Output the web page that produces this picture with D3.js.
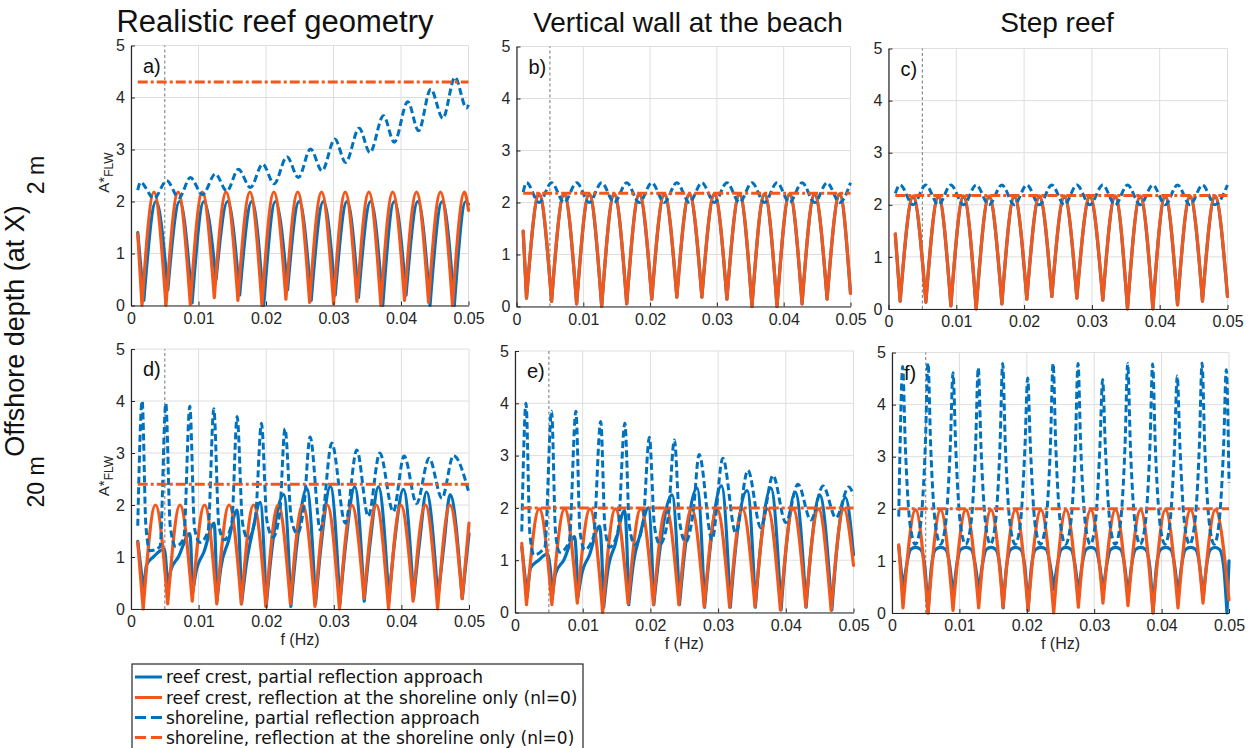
<!DOCTYPE html>
<html>
<head>
<meta charset="utf-8">
<script src="https://cdn.jsdelivr.net/npm/d3@7"></script>
<style>
  body { margin: 0; background: #fff; }
  svg { display: block; }
</style>
</head>
<body>
<svg id="fig" width="1252" height="748"></svg>
<script>
// ---------------------------------------------------------------------------
// Normalised far-field long-wave amplitude A*_FLW against frequency f (Hz).
// Each series is a list of [f, A*] points; troughs of the solid reef-crest
// curves are sharp minima.
// ---------------------------------------------------------------------------

const columnTitles = ["Realistic reef geometry", "Vertical wall at the beach", "Step reef"];
const rowLabels = ["2 m", "20 m"];
const panelLetters = ["a)", "b)", "c)", "d)", "e)", "f)"];
const xTicks = [0, 0.01, 0.02, 0.03, 0.04, 0.05];
const yTicks = [0, 1, 2, 3, 4, 5];
const markerFrequency = 0.005;
const legendLabels = [
  "reef crest, partial reflection approach",
  "reef crest, reflection at the shoreline only (nl=0)",
  "shoreline, partial reflection approach",
  "shoreline, reflection at the shoreline only (nl=0)"
];

// ---- a) realistic reef, 2 m offshore depth ----
const aCrestPartial = [[0.001,1.4],[0.0019,0.1],[0.0037,2.0],[0.00545,0.3],[0.0072,2.0],[0.00905,0.05],[0.0108,2.0],[0.0126,0.5],[0.0143,2.0],[0.0161,0.2],[0.0179,2.0],[0.01965,0.0],[0.0214,2.0],[0.0232,0.3],[0.0249,2.0],[0.0267,0.1],[0.0285,2.0],[0.03025,0.2],[0.032,2.0],[0.0337,0.15],[0.0355,2.0],[0.0373,0.0],[0.039,2.0],[0.04075,0.2],[0.0425,2.0],[0.0443,0.0],[0.0461,2.0],[0.0479,0.0],[0.0496,2.0],[0.05,1.95]];
const aCrestNl0 = [[0.001,1.38],[0.00163,0.0],[0.0034,2.18],[0.00518,0.0],[0.00698,2.18],[0.00879,0.02],[0.01056,2.18],[0.01234,0.15],[0.01409,2.18],[0.01584,0.1],[0.01762,2.18],[0.0194,0.0],[0.02117,2.18],[0.02295,0.12],[0.0247,2.18],[0.02646,0.06],[0.02823,2.18],[0.03001,0.03],[0.03174,2.18],[0.03347,0.08],[0.03524,2.18],[0.03702,0.0],[0.03877,2.18],[0.04052,0.1],[0.0423,2.18],[0.04408,0.06],[0.04585,2.18],[0.04763,0.0],[0.0494,2.18],[0.05,1.83]];
const aShorePartial = [[0.001,2.22],[0.0014,2.37],[0.0034,2.06],[0.0053,2.4],[0.0071,2.07],[0.0088,2.46],[0.0106,2.13],[0.0125,2.53],[0.0142,2.2],[0.0159,2.62],[0.0177,2.27],[0.0195,2.72],[0.0212,2.34],[0.0231,2.86],[0.0248,2.46],[0.0266,3.01],[0.0283,2.59],[0.0302,3.2],[0.0318,2.75],[0.0338,3.41],[0.0354,2.94],[0.0374,3.65],[0.039,3.14],[0.041,3.92],[0.0426,3.36],[0.0444,4.16],[0.0462,3.6],[0.048,4.39],[0.0497,3.8],[0.05,3.86]];
const aShoreNl0 = [[0.001,4.3],[0.05,4.3]];

// ---- b) vertical wall at the beach, 2 m ----
const bCrestNl0 = [[0.001,1.45],[0.0015,0.16],[0.00338,2.17],[0.00525,0.1],[0.00713,2.17],[0.009,0.05],[0.01088,2.17],[0.01275,0.0],[0.01463,2.17],[0.0165,0.05],[0.01838,2.17],[0.02025,0.14],[0.02213,2.17],[0.024,0.18],[0.02588,2.17],[0.02775,0.18],[0.02963,2.17],[0.0315,0.14],[0.03338,2.17],[0.03525,0.0],[0.03713,2.17],[0.039,0.0],[0.04088,2.17],[0.04275,0.05],[0.04463,2.17],[0.0465,0.14],[0.04838,2.17],[0.05,0.25]];
const bCrestPartial = [[0.001,1.45],[0.0015,0.16],[0.00338,2.15],[0.00525,0.1],[0.00713,2.15],[0.009,0.05],[0.01088,2.15],[0.01275,0.0],[0.01463,2.15],[0.0165,0.05],[0.01838,2.15],[0.02025,0.14],[0.02213,2.15],[0.024,0.18],[0.02588,2.15],[0.02775,0.18],[0.02963,2.15],[0.0315,0.14],[0.03338,2.15],[0.03525,0.0],[0.03713,2.15],[0.039,0.0],[0.04088,2.15],[0.04275,0.05],[0.04463,2.15],[0.0465,0.14],[0.04838,2.15],[0.05,0.25]];
const bShorePartial = [[0.001,2.2],[0.0015,2.38],[0.00338,2.0],[0.00525,2.38],[0.00713,2.0],[0.009,2.38],[0.01088,2.0],[0.01275,2.38],[0.01463,2.0],[0.0165,2.38],[0.01838,2.0],[0.02025,2.38],[0.02213,2.0],[0.024,2.38],[0.02588,2.0],[0.02775,2.38],[0.02963,2.0],[0.0315,2.38],[0.03338,2.0],[0.03525,2.38],[0.03713,2.0],[0.039,2.38],[0.04088,2.0],[0.04275,2.38],[0.04463,2.0],[0.0465,2.38],[0.04838,2.0],[0.05,2.38]];
const bShoreNl0 = [[0.001,2.18],[0.05,2.18]];

// ---- c) step reef, 2 m ----
const cCrestNl0 = [[0.001,1.44],[0.00172,0.15],[0.00362,2.17],[0.00551,0.13],[0.00736,2.17],[0.0092,0.06],[0.01107,2.17],[0.01293,0.0],[0.01483,2.17],[0.01672,0.1],[0.01856,2.17],[0.0204,0.19],[0.02225,2.17],[0.02409,0.24],[0.02594,2.17],[0.02778,0.21],[0.0297,2.17],[0.03161,0.17],[0.03343,2.17],[0.03525,0.0],[0.03712,2.17],[0.03899,0.0],[0.04081,2.17],[0.04263,0.08],[0.04447,2.17],[0.04631,0.15],[0.04816,2.17],[0.05,0.24]];
const cCrestPartial = [[0.001,1.44],[0.00172,0.15],[0.00362,2.15],[0.00551,0.13],[0.00736,2.15],[0.0092,0.06],[0.01107,2.15],[0.01293,0.0],[0.01483,2.15],[0.01672,0.1],[0.01856,2.15],[0.0204,0.19],[0.02225,2.15],[0.02409,0.24],[0.02594,2.15],[0.02778,0.21],[0.0297,2.15],[0.03161,0.17],[0.03343,2.15],[0.03525,0.0],[0.03712,2.15],[0.03899,0.0],[0.04081,2.15],[0.04263,0.08],[0.04447,2.15],[0.04631,0.15],[0.04816,2.15],[0.05,0.24]];
const cShorePartial = [[0.001,2.22],[0.00172,2.38],[0.00362,2.0],[0.00551,2.38],[0.00736,2.0],[0.0092,2.38],[0.01107,2.0],[0.01293,2.38],[0.01483,2.0],[0.01672,2.38],[0.01856,2.0],[0.0204,2.38],[0.02225,2.0],[0.02409,2.38],[0.02594,2.0],[0.02778,2.38],[0.0297,2.0],[0.03161,2.38],[0.03343,2.0],[0.03525,2.38],[0.03712,2.0],[0.03899,2.38],[0.04081,2.0],[0.04263,2.38],[0.04447,2.0],[0.04631,2.38],[0.04816,2.0],[0.05,2.38]];
const cShoreNl0 = [[0.001,2.18],[0.05,2.18]];

// ---- d) realistic reef, 20 m offshore depth ----
const dCrestPartial = [[0.001,1.3],[0.0019,0.3],[0.0023,0.85],[0.0033,1.0],[0.0049,1.15],[0.00545,0.35],[0.0059,0.75],[0.007,1.0],[0.0087,1.45],[0.0091,0.3],[0.0096,0.7],[0.0108,1.1],[0.0123,1.65],[0.0127,0.15],[0.0133,0.8],[0.0144,1.3],[0.0157,1.9],[0.01635,0.1],[0.0171,0.9],[0.018,1.5],[0.0191,2.05],[0.02,0.05],[0.0208,1.1],[0.0226,2.2],[0.02365,0.05],[0.0245,1.2],[0.026,2.32],[0.0273,0.1],[0.0281,1.2],[0.0295,2.36],[0.0309,0.1],[0.0318,1.3],[0.0331,2.35],[0.0345,0.15],[0.0354,1.3],[0.0366,2.35],[0.03815,0.15],[0.039,1.3],[0.0403,2.3],[0.0418,0.2],[0.0427,1.3],[0.0437,2.25],[0.0454,0.2],[0.0463,1.25],[0.0472,2.2],[0.049,0.2],[0.05,1.45]];
const dCrestNl0 = [[0.001,1.28],[0.0018,0.0],[0.00362,2.0],[0.00543,0.1],[0.00725,2.0],[0.00906,0.15],[0.01088,2.0],[0.01269,0.1],[0.01451,2.0],[0.01632,0.1],[0.01814,2.0],[0.01995,0.05],[0.02177,2.0],[0.02358,0.1],[0.0254,2.0],[0.02721,0.05],[0.02903,2.0],[0.03084,0.0],[0.03266,2.0],[0.03447,0.2],[0.03629,2.0],[0.0381,0.0],[0.03992,2.0],[0.04173,0.15],[0.04355,2.0],[0.04536,0.0],[0.04718,2.0],[0.04899,0.2],[0.05,1.65]];
const dShorePartial = [[0.001,1.6],[0.00165,4.0],[0.0022,1.6],[0.0028,1.12],[0.0043,1.2],[0.00515,3.95],[0.0058,1.6],[0.0066,1.2],[0.0078,1.35],[0.0087,3.9],[0.0094,1.55],[0.0102,1.28],[0.0114,1.5],[0.01225,3.85],[0.013,1.6],[0.0138,1.33],[0.0149,1.65],[0.0157,3.7],[0.0165,1.65],[0.0173,1.35],[0.0184,1.75],[0.0193,3.57],[0.0201,1.7],[0.021,1.38],[0.022,1.85],[0.02278,3.47],[0.0237,1.75],[0.0246,1.45],[0.0256,2.0],[0.0265,3.31],[0.028,1.52],[0.0297,3.19],[0.0317,1.65],[0.0334,3.06],[0.0351,1.78],[0.0368,3.0],[0.0388,1.87],[0.0404,2.94],[0.04225,2.03],[0.0441,2.9],[0.046,2.13],[0.0477,2.95],[0.05,2.23]];
const dShoreNl0 = [[0.001,2.4],[0.05,2.4]];

// ---- e) vertical wall at the beach, 20 m ----
const eCrestPartial = [[0.001,1.25],[0.0018,0.3],[0.0023,0.85],[0.0035,1.0],[0.0048,1.12],[0.00555,0.35],[0.006,0.75],[0.0072,1.0],[0.0088,1.45],[0.0093,0.3],[0.0098,0.7],[0.011,1.1],[0.0125,1.65],[0.0131,0.1],[0.0137,0.8],[0.0148,1.3],[0.0162,1.95],[0.0168,0.15],[0.0175,0.95],[0.0185,1.5],[0.0197,2.0],[0.0205,0.15],[0.0213,1.1],[0.0232,2.25],[0.0243,0.15],[0.0251,1.2],[0.0269,2.38],[0.028,0.1],[0.0288,1.2],[0.0305,2.42],[0.0318,0.1],[0.0326,1.25],[0.0343,2.33],[0.0355,0.1],[0.0363,1.3],[0.0378,2.38],[0.0393,0.05],[0.0401,1.3],[0.0414,2.3],[0.043,0.1],[0.0438,1.3],[0.045,2.25],[0.0468,0.05],[0.0476,1.3],[0.0488,2.2],[0.05,1.1]];
const eCrestNl0 = [[0.001,1.32],[0.0017,0.15],[0.00358,1.98],[0.00545,0.15],[0.00733,1.98],[0.0092,0.18],[0.01108,1.98],[0.01295,0.0],[0.01483,1.98],[0.0167,0.17],[0.01858,1.98],[0.02045,0.15],[0.02233,1.98],[0.0242,0.15],[0.02608,1.98],[0.02795,0.11],[0.02983,1.98],[0.0317,0.1],[0.03358,1.98],[0.03545,0.11],[0.03733,1.98],[0.0392,0.05],[0.04108,1.98],[0.04295,0.11],[0.04483,1.98],[0.0467,0.04],[0.04858,1.98],[0.05,0.9]];
const eShorePartial = [[0.001,1.55],[0.00163,4.0],[0.0022,1.5],[0.0028,1.1],[0.0044,1.25],[0.0054,3.85],[0.006,1.5],[0.0066,1.15],[0.008,1.35],[0.009,3.85],[0.0096,1.55],[0.0103,1.2],[0.0116,1.45],[0.01266,3.65],[0.0133,1.6],[0.014,1.25],[0.0152,1.55],[0.01623,3.62],[0.0169,1.65],[0.0177,1.3],[0.0189,1.7],[0.01985,3.35],[0.0206,1.65],[0.0214,1.3],[0.0226,1.8],[0.02355,3.3],[0.0243,1.75],[0.0252,1.35],[0.0263,1.9],[0.0272,3.02],[0.0291,1.39],[0.0307,2.95],[0.0326,1.52],[0.0344,2.72],[0.0363,1.62],[0.0381,2.62],[0.04,1.72],[0.0418,2.45],[0.0437,1.77],[0.0455,2.42],[0.0474,1.81],[0.0493,2.4],[0.05,2.25]];
const eShoreNl0 = [[0.001,2.0],[0.05,2.0]];

// ---- f) step reef, 20 m ----
const fCrestPartial = [[0.001,1.28],[0.00165,0.45],[0.00215,0.9],[0.00275,1.22],[0.0035,1.26],[0.00426,1.22],[0.00486,0.9],[0.00536,0.0],[0.00586,0.9],[0.00646,1.22],[0.00722,1.26],[0.00798,1.22],[0.00858,0.9],[0.00908,0.3],[0.00958,0.9],[0.01018,1.22],[0.01098,1.26],[0.01178,1.22],[0.01238,0.9],[0.01288,0.4],[0.01338,0.9],[0.01398,1.22],[0.01469,1.26],[0.0154,1.22],[0.016,0.9],[0.0165,0.1],[0.017,0.9],[0.0176,1.22],[0.01835,1.26],[0.0191,1.22],[0.0197,0.9],[0.0202,0.05],[0.0207,0.9],[0.0213,1.22],[0.0221,1.26],[0.0229,1.22],[0.0235,0.9],[0.024,0.45],[0.0245,0.9],[0.0251,1.22],[0.02584,1.26],[0.02658,1.22],[0.02718,0.9],[0.02768,0.35],[0.02818,0.9],[0.02878,1.22],[0.0295,1.26],[0.03023,1.22],[0.03083,0.9],[0.03133,0.4],[0.03183,0.9],[0.03243,1.22],[0.03318,1.26],[0.03393,1.22],[0.03453,0.9],[0.03503,0.3],[0.03553,0.9],[0.03613,1.22],[0.03688,1.26],[0.03764,1.22],[0.03824,0.9],[0.03874,0.0],[0.03924,0.9],[0.03984,1.22],[0.0406,1.26],[0.04135,1.22],[0.04195,0.9],[0.04245,0.3],[0.04295,0.9],[0.04355,1.22],[0.0443,1.26],[0.04506,1.22],[0.04566,0.9],[0.04616,0.25],[0.04666,0.9],[0.04726,1.22],[0.04793,1.26],[0.0486,1.22],[0.0492,0.9],[0.0497,0.0],[0.05,1.0]];
const fCrestNl0 = [[0.001,1.31],[0.00163,0.1],[0.00349,1.98],[0.00534,0.0],[0.0072,1.98],[0.00905,0.05],[0.01096,1.98],[0.01286,0.1],[0.01467,1.98],[0.01647,0.11],[0.01833,1.98],[0.02018,0.06],[0.02209,1.98],[0.02399,0.0],[0.02582,1.98],[0.02765,0.11],[0.02948,1.98],[0.0313,0.19],[0.03316,1.98],[0.03501,0.14],[0.03687,1.98],[0.03872,0.0],[0.04058,1.98],[0.04243,0.1],[0.04429,1.98],[0.04614,0.19],[0.04799,1.98],[0.05,0.25]];
const fShorePartial = [[0.001,1.85],[0.0012,3.2],[0.00158,4.73],[0.00198,3.2],[0.00268,1.7],[0.00346,1.32],[0.00424,1.7],[0.00494,3.2],[0.00534,4.8],[0.00574,3.2],[0.00644,1.7],[0.0072,1.32],[0.00795,1.7],[0.00865,3.2],[0.00905,4.61],[0.00945,3.2],[0.01015,1.7],[0.01093,1.32],[0.0117,1.7],[0.0124,3.2],[0.0128,4.71],[0.0132,3.2],[0.0139,1.7],[0.01461,1.32],[0.01532,1.7],[0.01602,3.2],[0.01642,4.79],[0.01682,3.2],[0.01752,1.7],[0.01828,1.32],[0.01903,1.7],[0.01973,3.2],[0.02013,4.51],[0.02053,3.2],[0.02123,1.7],[0.02202,1.32],[0.0228,1.7],[0.0235,3.2],[0.0239,4.79],[0.0243,3.2],[0.025,1.7],[0.02575,1.32],[0.0265,1.7],[0.0272,3.2],[0.0276,4.79],[0.028,3.2],[0.0287,1.7],[0.02943,1.32],[0.03015,1.7],[0.03085,3.2],[0.03125,4.48],[0.03165,3.2],[0.03235,1.7],[0.03311,1.32],[0.03387,1.7],[0.03457,3.2],[0.03497,4.79],[0.03537,3.2],[0.03607,1.7],[0.03682,1.32],[0.03757,1.7],[0.03827,3.2],[0.03867,4.78],[0.03907,3.2],[0.03977,1.7],[0.0405,1.32],[0.04122,1.7],[0.04192,3.2],[0.04232,4.55],[0.04272,3.2],[0.04342,1.7],[0.04416,1.32],[0.0449,1.7],[0.0456,3.2],[0.046,4.8],[0.0464,3.2],[0.0471,1.7],[0.0478,1.32],[0.0485,1.7],[0.0492,3.2],[0.0496,4.67],[0.05,2.5]];
const fShoreNl0 = [[0.001,2.0],[0.05,2.0]];

// ---------------------------------------------------------------------------
const BLUE = "#0072bd";
const ORANGE = "#f2581b";
const TEXT = "#262626";
const GRID = "#dedede";

const seriesStyles = [
  { key: "crestPartial", color: BLUE,   width: 3.2, dash: null,         cusp: true,  legendDash: null },
  { key: "crestNl0",     color: ORANGE, width: 3.2, dash: null,         cusp: true,  legendDash: null },
  { key: "shorePartial", color: BLUE,   width: 3.0, dash: "7,3.5",      cusp: false, legendDash: "11,5" },
  { key: "shoreNl0",     color: ORANGE, width: 3.0, dash: "10,3,3,3",   cusp: false, legendDash: "11,5" }
];

const panels = [
  { box: { left: 131, right: 468.5, top: 45.5, bottom: 305.5 }, crestPartial: aCrestPartial, crestNl0: aCrestNl0, shorePartial: aShorePartial, shoreNl0: aShoreNl0 },
  { box: { left: 516.5, right: 850.5, top: 46.5, bottom: 306.5 }, crestPartial: bCrestPartial, crestNl0: bCrestNl0, shorePartial: bShorePartial, shoreNl0: bShoreNl0 },
  { box: { left: 888.5, right: 1227.5, top: 48.5, bottom: 309 }, crestPartial: cCrestPartial, crestNl0: cCrestNl0, shorePartial: cShorePartial, shoreNl0: cShoreNl0 },
  { box: { left: 131, right: 469, top: 349, bottom: 609 }, crestPartial: dCrestPartial, crestNl0: dCrestNl0, shorePartial: dShorePartial, shoreNl0: dShoreNl0 },
  { box: { left: 515, right: 853.5, top: 351, bottom: 612.5 }, crestPartial: eCrestPartial, crestNl0: eCrestNl0, shorePartial: eShorePartial, shoreNl0: eShoreNl0 },
  { box: { left: 892, right: 1229, top: 352.5, bottom: 613 }, crestPartial: fCrestPartial, crestNl0: fCrestNl0, shorePartial: fShorePartial, shoreNl0: fShoreNl0 }
];

const svg = d3.select("#fig");
const FONT = "'Liberation Sans', Arial, sans-serif";
const LEGEND_FONT = "'DejaVu Sans', sans-serif";

// Split a curve at its local minima so the troughs stay sharp.
function splitAtTroughs(data) {
  const parts = [];
  let cur = [data[0]];
  for (let i = 1; i < data.length; i++) {
    cur.push(data[i]);
    if (i < data.length - 1 && data[i][1] < data[i - 1][1] && data[i][1] < data[i + 1][1]) {
      parts.push(cur);
      cur = [data[i]];
    }
  }
  parts.push(cur);
  return parts;
}

panels.forEach((p, idx) => {
  const b = p.box;
  const x = d3.scaleLinear().domain([0, 0.05]).range([b.left, b.right]);
  const y = d3.scaleLinear().domain([0, 5]).range([b.bottom, b.top]);
  const g = svg.append("g");

  // grid
  g.append("g").selectAll("line").data(xTicks).join("line")
    .attr("x1", d => x(d)).attr("x2", d => x(d))
    .attr("y1", y(0)).attr("y2", y(5))
    .attr("stroke", GRID).attr("stroke-width", 1);
  g.append("g").selectAll("line").data(yTicks).join("line")
    .attr("x1", x(0)).attr("x2", x(0.05))
    .attr("y1", d => y(d)).attr("y2", d => y(d))
    .attr("stroke", GRID).attr("stroke-width", 1);

  // reference frequency marker
  g.append("line")
    .attr("x1", x(markerFrequency)).attr("x2", x(markerFrequency))
    .attr("y1", y(0)).attr("y2", y(5))
    .attr("stroke", "#8c8c8c").attr("stroke-width", 1.2)
    .attr("stroke-dasharray", "3,2.5");

  const clipId = "clip" + idx;
  svg.append("clipPath").attr("id", clipId).append("rect")
    .attr("x", b.left).attr("y", b.top - 4)
    .attr("width", b.right - b.left + 2).attr("height", b.bottom - b.top + 6);

  const line = d3.line().x(d => x(d[0])).y(d => y(d[1])).curve(d3.curveMonotoneX);
  const curves = g.append("g").attr("clip-path", `url(#${clipId})`);

  seriesStyles.forEach(s => {
    const data = p[s.key];
    const parts = s.cusp ? splitAtTroughs(data) : [data];
    curves.append("path")
      .attr("d", parts.map(pt => line(pt)).join(""))
      .attr("fill", "none")
      .attr("stroke", s.color)
      .attr("stroke-width", s.width)
      .attr("stroke-linejoin", "round")
      .attr("stroke-linecap", s.dash ? "butt" : "round")
      .attr("stroke-dasharray", s.dash);
  });

  // axes (left and bottom dark, ticks pointing inward)
  const xAxis = d3.axisBottom(x).tickValues(xTicks)
    .tickSizeInner(-4).tickSizeOuter(0).tickPadding(7)
    .tickFormat(d => d === 0 ? "0" : d3.format(".2f")(d));
  const yAxis = d3.axisLeft(y).tickValues(yTicks)
    .tickSizeInner(-4).tickSizeOuter(0).tickPadding(6)
    .tickFormat(d3.format("d"));

  const gx = g.append("g").attr("transform", `translate(0,${b.bottom})`).call(xAxis);
  const gy = g.append("g").attr("transform", `translate(${b.left},0)`).call(yAxis);
  [gx, gy].forEach(ax => {
    ax.select(".domain").attr("stroke", TEXT).attr("stroke-width", 1.2);
    ax.selectAll(".tick line").attr("stroke", TEXT);
    ax.selectAll(".tick text").attr("fill", TEXT).style("font-family", FONT).style("font-size", "16px");
  });

  // panel letter
  g.append("text")
    .attr("x", b.left + 12).attr("y", b.top + 27)
    .attr("fill", "#111").style("font-family", FONT).style("font-size", "20px")
    .text(panelLetters[idx]);

  const col = idx % 3, row = Math.floor(idx / 3);

  // y label on the first column
  if (col === 0) {
    const cy = (b.top + b.bottom) / 2 - 3;
    const t = g.append("text")
      .attr("transform", `translate(${b.left - 22},${cy}) rotate(-90)`)
      .attr("text-anchor", "middle")
      .attr("fill", TEXT).style("font-family", FONT).style("font-size", "15px");
    t.append("tspan").text("A*");
    t.append("tspan").attr("dy", "0.35em").style("font-size", "12px").text("FLW");
  }
  // x label on the bottom row
  if (row === 1) {
    g.append("text")
      .attr("x", (b.left + b.right) / 2).attr("y", b.bottom + 36)
      .attr("text-anchor", "middle")
      .attr("fill", TEXT).style("font-family", FONT).style("font-size", "16px")
      .text("f (Hz)");
  }
});

// column titles
const titleX = [275, 688, 1057];
const titleSize = [31, 28, 28];
columnTitles.forEach((t, i) => {
  svg.append("text")
    .attr("x", titleX[i]).attr("y", 32)
    .attr("text-anchor", "middle")
    .attr("fill", "#111").style("font-family", FONT).style("font-size", titleSize[i] + "px")
    .text(t);
});

// row labels
const rowY = [175, 482];
rowLabels.forEach((t, i) => {
  svg.append("text")
    .attr("transform", `translate(44,${rowY[i]}) rotate(-90)`)
    .attr("text-anchor", "middle")
    .attr("fill", "#111").style("font-family", FONT).style("font-size", "23px")
    .text(t);
});
svg.append("text")
  .attr("transform", "translate(24,331) rotate(-90)")
  .attr("text-anchor", "middle")
  .attr("fill", "#111").style("font-family", FONT).style("font-size", "27px")
  .text("Offshore depth (at X)");

// legend
const lg = svg.append("g");
lg.append("rect")
  .attr("x", 132).attr("y", 664).attr("width", 451).attr("height", 100)
  .attr("fill", "#fff").attr("stroke", TEXT).attr("stroke-width", 1.2);
const legendY = [677, 697.5, 717.5, 737.5];
seriesStyles.forEach((s, i) => {
  lg.append("line")
    .attr("x1", 135).attr("x2", 162)
    .attr("y1", legendY[i]).attr("y2", legendY[i])
    .attr("stroke", s.color).attr("stroke-width", 3)
    .attr("stroke-dasharray", s.legendDash);
  lg.append("text")
    .attr("x", 166).attr("y", legendY[i]).attr("dy", "0.36em")
    .attr("fill", "#111").style("font-family", LEGEND_FONT).style("font-size", "17px")
    .text(legendLabels[i]);
});
</script>
</body>
</html>
